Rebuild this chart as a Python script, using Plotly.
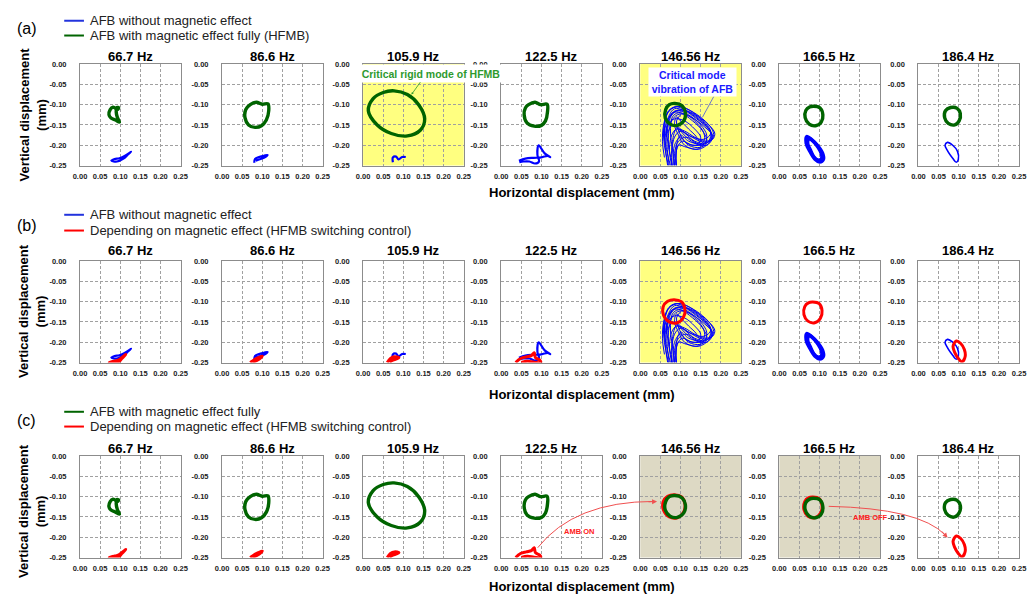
import plotly.graph_objects as go

W, H = 1033, 599

# ---------------- data ----------------
FREQ_LABELS = ["66.7 Hz", "86.6 Hz", "105.9 Hz", "122.5 Hz", "146.56 Hz", "166.5 Hz", "186.4 Hz"]
X_TICKS = [0.0, 0.05, 0.10, 0.15, 0.20, 0.25]
X_TICK_TEXT = ["0.00", "0.05", "0.10", "0.15", "0.20", "0.25"]
Y_TICKS = [0.0, -0.05, -0.10, -0.15, -0.20, -0.25]
Y_TICK_TEXT = ["0.00", "-0.05", "-0.10", "-0.15", "-0.20", "-0.25"]

# AFB with magnetic effect fully (HFMB) - green
G667_X = [0.082, 0.075, 0.072, 0.077, 0.088, 0.098, 0.093, 0.090, 0.092, 0.096, 0.093, 0.087, 0.082]
G667_Y = [-0.106, -0.112, -0.125, -0.133, -0.138, -0.143, -0.132, -0.118, -0.107, -0.108, -0.112, -0.108, -0.106]
G866_X = [0.070, 0.085, 0.100, 0.114, 0.116, 0.110, 0.098, 0.082, 0.066, 0.057, 0.059, 0.070]
G866_Y = [-0.100, -0.094, -0.099, -0.098, -0.115, -0.138, -0.152, -0.156, -0.150, -0.132, -0.112, -0.100]
G1059_X = [0.077, 0.110, 0.138, 0.153, 0.142, 0.110, 0.070, 0.035, 0.013, 0.025, 0.050, 0.077]
G1059_Y = [-0.066, -0.075, -0.100, -0.135, -0.163, -0.177, -0.171, -0.150, -0.115, -0.085, -0.070, -0.066]
G1225_X = [0.068, 0.084, 0.098, 0.114, 0.115, 0.110, 0.100, 0.082, 0.064, 0.057, 0.060, 0.068]
G1225_Y = [-0.100, -0.094, -0.100, -0.099, -0.118, -0.140, -0.151, -0.153, -0.145, -0.125, -0.108, -0.100]
G14656_X = [0.086, 0.104, 0.112, 0.108, 0.092, 0.074, 0.062, 0.063, 0.072, 0.086]
G14656_Y = [-0.097, -0.103, -0.120, -0.140, -0.151, -0.148, -0.133, -0.112, -0.100, -0.097]
G1665_X = [0.085, 0.101, 0.108, 0.104, 0.090, 0.074, 0.064, 0.066, 0.075, 0.085]
G1665_Y = [-0.104, -0.108, -0.125, -0.143, -0.152, -0.148, -0.132, -0.114, -0.106, -0.104]
G1864_X = [0.080, 0.096, 0.104, 0.101, 0.090, 0.074, 0.065, 0.067, 0.080]
G1864_Y = [-0.107, -0.109, -0.122, -0.140, -0.150, -0.146, -0.132, -0.115, -0.107]

# AFB without magnetic effect - blue
B667_X = [0.078, 0.092, 0.108, 0.120, 0.127, 0.112, 0.098, 0.086, 0.078]
B667_Y = [-0.238, -0.240, -0.233, -0.222, -0.216, -0.226, -0.232, -0.234, -0.238]
B866_X = [0.080, 0.082, 0.092, 0.104, 0.113, 0.104, 0.092, 0.084]
B866_Y = [-0.243, -0.234, -0.229, -0.226, -0.224, -0.231, -0.235, -0.238]
B1059_X = [0.074, 0.074, 0.082, 0.088, 0.097, 0.106]
B1059_Y = [-0.242, -0.230, -0.228, -0.235, -0.229, -0.229]
B1225_X = [0.044, 0.060, 0.080, 0.100, 0.115, 0.122, 0.108, 0.093, 0.090, 0.094, 0.084, 0.070, 0.055, 0.045]
B1225_Y = [-0.238, -0.233, -0.231, -0.230, -0.226, -0.229, -0.220, -0.200, -0.224, -0.240, -0.245, -0.240, -0.240, -0.242]
B14656_L1_X = [0.075, 0.065, 0.060, 0.070, 0.085, 0.110, 0.140, 0.170, 0.180, 0.165, 0.140, 0.115, 0.095, 0.085, 0.085]
B14656_L1_Y = [-0.250, -0.210, -0.170, -0.130, -0.110, -0.115, -0.135, -0.160, -0.180, -0.200, -0.195, -0.180, -0.190, -0.220, -0.250]
B14656_L2_X = [0.080, 0.070, 0.065, 0.075, 0.095, 0.120, 0.150, 0.165, 0.160, 0.135, 0.110, 0.090, 0.080, 0.078]
B14656_L2_Y = [-0.250, -0.200, -0.160, -0.125, -0.115, -0.125, -0.150, -0.175, -0.195, -0.190, -0.170, -0.160, -0.190, -0.250]
B14656_L3_X = [0.070, 0.060, 0.058, 0.068, 0.090, 0.115, 0.145, 0.175, 0.170, 0.150, 0.120, 0.100, 0.090, 0.100]
B14656_L3_Y = [-0.250, -0.200, -0.160, -0.120, -0.105, -0.110, -0.130, -0.165, -0.190, -0.205, -0.200, -0.175, -0.140, -0.125]
B14656_L4_X = [0.065, 0.070, 0.080, 0.100, 0.130, 0.155, 0.165, 0.150, 0.120, 0.095, 0.080, 0.068]
B14656_L4_Y = [-0.180, -0.140, -0.120, -0.120, -0.140, -0.165, -0.190, -0.200, -0.185, -0.160, -0.150, -0.170]
B14656_L5_X = [0.085, 0.080, 0.075, 0.080, 0.095, 0.125, 0.160, 0.178, 0.170, 0.145, 0.115, 0.095, 0.088, 0.090]
B14656_L5_Y = [-0.250, -0.210, -0.170, -0.130, -0.120, -0.130, -0.155, -0.175, -0.195, -0.210, -0.205, -0.200, -0.230, -0.250]
B14656_L6_X = [0.060, 0.055, 0.058, 0.070, 0.088, 0.105, 0.130, 0.160, 0.175, 0.160, 0.130, 0.105, 0.090]
B14656_L6_Y = [-0.230, -0.190, -0.150, -0.115, -0.105, -0.110, -0.125, -0.150, -0.170, -0.185, -0.180, -0.165, -0.150]
B14656_L7_X = [0.072, 0.068, 0.066, 0.072, 0.082, 0.100, 0.125, 0.155, 0.172, 0.176, 0.160, 0.130, 0.105, 0.092, 0.088]
B14656_L7_Y = [-0.250, -0.220, -0.180, -0.140, -0.118, -0.113, -0.120, -0.142, -0.162, -0.182, -0.197, -0.200, -0.190, -0.205, -0.250]
B14656_L8_X = [0.078, 0.072, 0.070, 0.078, 0.092, 0.115, 0.140, 0.158, 0.158, 0.140, 0.115, 0.100, 0.085, 0.082]
B14656_L8_Y = [-0.250, -0.215, -0.175, -0.140, -0.125, -0.125, -0.145, -0.170, -0.190, -0.200, -0.195, -0.180, -0.200, -0.250]
B14656_L9_X = [0.062, 0.060, 0.066, 0.080, 0.100, 0.125, 0.155, 0.178, 0.182, 0.170, 0.148, 0.120, 0.100, 0.085, 0.078]
B14656_L9_Y = [-0.200, -0.160, -0.125, -0.108, -0.105, -0.115, -0.135, -0.160, -0.178, -0.192, -0.190, -0.175, -0.165, -0.180, -0.220]
B14656_L10_X = [0.090, 0.100, 0.120, 0.140, 0.150, 0.135, 0.110, 0.095, 0.085, 0.090]
B14656_L10_Y = [-0.130, -0.140, -0.160, -0.180, -0.205, -0.210, -0.200, -0.175, -0.150, -0.130]
B14656_L11_X = [0.068, 0.063, 0.062, 0.068, 0.085, 0.110, 0.135, 0.150, 0.145, 0.120, 0.100, 0.090, 0.090]
B14656_L11_Y = [-0.250, -0.215, -0.180, -0.150, -0.135, -0.140, -0.160, -0.180, -0.195, -0.190, -0.175, -0.200, -0.250]
B14656_L12_X = [0.075, 0.090, 0.115, 0.145, 0.170, 0.185, 0.180, 0.160, 0.135, 0.110, 0.090, 0.078, 0.072]
B14656_L12_Y = [-0.130, -0.115, -0.115, -0.130, -0.150, -0.170, -0.185, -0.190, -0.180, -0.165, -0.160, -0.175, -0.210]
B1665_L1_X = [0.068, 0.080, 0.095, 0.108, 0.110, 0.100, 0.088, 0.075, 0.066, 0.068]
B1665_L1_Y = [-0.178, -0.185, -0.200, -0.220, -0.235, -0.242, -0.235, -0.215, -0.195, -0.178]
B1665_L2_X = [0.070, 0.082, 0.096, 0.106, 0.107, 0.098, 0.087, 0.076, 0.068, 0.070]
B1665_L2_Y = [-0.181, -0.188, -0.203, -0.221, -0.234, -0.239, -0.231, -0.212, -0.195, -0.181]
B1665_L3_X = [0.073, 0.084, 0.096, 0.104, 0.104, 0.096, 0.086, 0.077, 0.071, 0.073]
B1665_L3_Y = [-0.184, -0.191, -0.206, -0.222, -0.233, -0.236, -0.228, -0.210, -0.196, -0.184]
B1864_X = [0.072, 0.085, 0.097, 0.099, 0.094, 0.085, 0.073, 0.066, 0.072]
B1864_Y = [-0.193, -0.200, -0.215, -0.235, -0.242, -0.232, -0.215, -0.200, -0.193]

# Depending on magnetic effect (HFMB switching control) - red
R667_X = [0.073, 0.095, 0.114, 0.104, 0.096, 0.085, 0.073]
R667_Y = [-0.250, -0.244, -0.230, -0.240, -0.248, -0.247, -0.250]
R866_X = [0.070, 0.080, 0.090, 0.100, 0.094, 0.084, 0.076]
R866_Y = [-0.250, -0.243, -0.238, -0.234, -0.240, -0.246, -0.250]
R1059_X = [0.060, 0.068, 0.078, 0.089, 0.080, 0.070, 0.066]
R1059_Y = [-0.250, -0.240, -0.236, -0.238, -0.242, -0.246, -0.250]
R1225_X = [0.036, 0.048, 0.062, 0.075, 0.082, 0.085, 0.096, 0.098, 0.082, 0.065, 0.050]
R1225_Y = [-0.250, -0.240, -0.236, -0.233, -0.226, -0.238, -0.244, -0.250, -0.249, -0.247, -0.250]
R14656_X = [0.084, 0.102, 0.111, 0.107, 0.092, 0.072, 0.058, 0.057, 0.068, 0.084]
R14656_Y = [-0.095, -0.100, -0.118, -0.139, -0.152, -0.150, -0.134, -0.112, -0.099, -0.095]
R1665_X = [0.083, 0.099, 0.106, 0.102, 0.088, 0.071, 0.061, 0.063, 0.072, 0.083]
R1665_Y = [-0.101, -0.105, -0.122, -0.141, -0.152, -0.148, -0.132, -0.112, -0.103, -0.101]
R1864_X = [0.094, 0.105, 0.114, 0.116, 0.108, 0.099, 0.090, 0.086, 0.094]
R1864_Y = [-0.197, -0.203, -0.218, -0.235, -0.248, -0.240, -0.225, -0.210, -0.197]

GREEN = [[(G667_X, G667_Y)], [(G866_X, G866_Y)], [(G1059_X, G1059_Y)], [(G1225_X, G1225_Y)],
         [(G14656_X, G14656_Y)], [(G1665_X, G1665_Y)], [(G1864_X, G1864_Y)]]
BLUE = [[(B667_X, B667_Y)], [(B866_X, B866_Y)], [(B1059_X, B1059_Y)], [(B1225_X, B1225_Y)],
        [(B14656_L1_X, B14656_L1_Y), (B14656_L2_X, B14656_L2_Y), (B14656_L3_X, B14656_L3_Y),
         (B14656_L4_X, B14656_L4_Y), (B14656_L5_X, B14656_L5_Y), (B14656_L6_X, B14656_L6_Y),
         (B14656_L7_X, B14656_L7_Y), (B14656_L8_X, B14656_L8_Y), (B14656_L9_X, B14656_L9_Y),
         (B14656_L10_X, B14656_L10_Y), (B14656_L11_X, B14656_L11_Y), (B14656_L12_X, B14656_L12_Y)],
        [(B1665_L1_X, B1665_L1_Y), (B1665_L2_X, B1665_L2_Y), (B1665_L3_X, B1665_L3_Y)],
        [(B1864_X, B1864_Y)]]
RED = [[(R667_X, R667_Y)], [(R866_X, R866_Y)], [(R1059_X, R1059_Y)], [(R1225_X, R1225_Y)],
       [(R14656_X, R14656_Y)], [(R1665_X, R1665_Y)], [(R1864_X, R1864_Y)]]

# ---------------- styles ----------------
COLORS = {"blue": "#0000FF", "green": "#006400", "red": "#FF0000"}
SERIES = {"blue": BLUE, "green": GREEN, "red": RED}
WIDTHS = {"blue": [2.2, 2.2, 2.2, 2.2, 1, 3, 1.6], "green": [3.4] * 7, "red": [3] * 7}
ROW_ORDER = [("blue", "green"), ("blue", "red"), ("red", "green")]
BG = {(0, 2): "#FFFF80", (0, 4): "#FFFF80", (1, 4): "#FFFF80", (2, 4): "#DDD9C4", (2, 5): "#DDD9C4"}

COL_LEFT = [74, 218, 361, 501, 642, 783, 924]
ROW_TOP = [61, 261, 459]
BOX_W, BOX_H = 102, 103
FONT = "Liberation Sans, Arial, sans-serif"


def fx(p):
    return p / W


def fy(p):
    return 1 - p / H


fig = go.Figure()
layout = dict(width=W, height=H, autosize=False, margin=dict(l=0, r=0, t=0, b=0),
              paper_bgcolor="white", plot_bgcolor="white", showlegend=False,
              font=dict(family=FONT, color="black"))
shapes, annotations = [], []

for r in range(3):
    for c in range(7):
        k = r * 7 + c + 1
        xa = "x" if k == 1 else f"x{k}"
        ya = "y" if k == 1 else f"y{k}"
        for s in ROW_ORDER[r]:
            for xs, ys in SERIES[s][c]:
                fig.add_trace(go.Scatter(x=xs, y=ys, mode="lines", xaxis=xa, yaxis=ya,
                                         line=dict(color=COLORS[s], width=WIDTHS[s][c],
                                                   shape="spline", smoothing=1),
                                         hoverinfo="skip", showlegend=False))
        x0, y0 = COL_LEFT[c], ROW_TOP[r]
        common = dict(showline=True, mirror=True, linecolor="#8c8c8c", linewidth=1,
                      showgrid=True, gridcolor="#a0a0a0", griddash="3px,2px", gridwidth=0.8,
                      zeroline=False, fixedrange=True,
                      tickfont=dict(size=7.5, family=FONT, color="#222", weight="bold"))
        layout["xaxis" if k == 1 else f"xaxis{k}"] = dict(
            domain=[fx(x0), fx(x0 + BOX_W)], anchor=ya, range=[0, 0.25],
            tickmode="array", tickvals=X_TICKS, ticktext=X_TICK_TEXT,
            ticks="", ticklabelstandoff=3, **common)
        layout["yaxis" if k == 1 else f"yaxis{k}"] = dict(
            domain=[fy(y0 + BOX_H), fy(y0)], anchor=xa, range=[-0.25, 0],
            tickmode="array", tickvals=Y_TICKS, ticktext=Y_TICK_TEXT,
            ticks="", ticklabelstandoff=11, **common)
        if (r, c) in BG:
            shapes.append(dict(type="rect", xref=f"{xa} domain", yref=f"{ya} domain",
                               x0=0, x1=1, y0=0, y1=1, fillcolor=BG[(r, c)],
                               line=dict(width=0), layer="below"))
        annotations.append(dict(text=f"<b>{FREQ_LABELS[c]}</b>", x=fx(x0 + BOX_W / 2),
                                y=fy([53, 250, 451][r]), xref="paper", yref="paper",
                                showarrow=False, xanchor="center", yanchor="middle",
                                font=dict(size=13, family=FONT, color="black")))

for r, lab in enumerate(["(a)", "(b)", "(c)"]):
    annotations.append(dict(text=lab, x=fx(20), y=fy([25, 225, 423][r]), xref="paper", yref="paper",
                            showarrow=False, xanchor="center", yanchor="middle",
                            font=dict(size=16, family=FONT, color="black")))
    annotations.append(dict(text="<b>Horizontal displacement (mm)</b>", x=fx(583),
                            y=fy([191.5, 396, 591.5][r]), xref="paper", yref="paper",
                            showarrow=False, xanchor="center", yanchor="middle",
                            font=dict(size=13, family=FONT, color="black")))
    annotations.append(dict(text="<b>Vertical displacement<br>(mm)</b>", x=fx(26),
                            y=fy([112.5, 312, 515][r]), xref="paper", yref="paper",
                            showarrow=False, textangle=-90, xanchor="center", yanchor="middle",
                            font=dict(size=13, family=FONT, color="black")))

LEGENDS = [(17, "blue", "AFB without magnetic effect"),
           (32, "green", "AFB with magnetic effect fully (HFMB)"),
           (214, "blue", "AFB without magnetic effect"),
           (230, "red", "Depending on magnetic effect (HFMB switching control)"),
           (414, "green", "AFB with magnetic effect fully"),
           (429, "red", "Depending on magnetic effect (HFMB switching control)")]
LEG_COL = {"blue": "#2233DD", "green": "#006400", "red": "#FF0000"}
for yy, col, txt in LEGENDS:
    shapes.append(dict(type="line", xref="paper", yref="paper", x0=fx(58), x1=fx(78),
                       y0=fy(yy), y1=fy(yy), line=dict(color=LEG_COL[col], width=2)))
    annotations.append(dict(text=txt, x=fx(82), y=fy(yy), xref="paper", yref="paper",
                            showarrow=False, xanchor="left", yanchor="middle",
                            font=dict(size=13, family=FONT, color="#222")))

annotations.append(dict(text="<b>Critical rigid mode of HFMB</b>", x=fx(430), y=fy(70.5),
                        xref="paper", yref="paper", showarrow=False, bgcolor="white",
                        width=144, height=15, xanchor="center", yanchor="middle",
                        font=dict(size=10.5, family=FONT, color="#2E9A2E")))
annotations.append(dict(text="", x=fx(410), y=fy(92), xref="paper", yref="paper",
                        ax=10, ay=-14, showarrow=True, arrowhead=2, arrowsize=0.6,
                        arrowwidth=0.8, arrowcolor="#2E9A2E"))
annotations.append(dict(text="<b>Critical mode<br>vibration of AFB</b>", x=fx(694.5), y=fy(79.5),
                        xref="paper", yref="paper", showarrow=False, bgcolor="white",
                        width=85, height=26, xanchor="center", yanchor="middle",
                        font=dict(size=10.5, family=FONT, color="#1a1aff")))
annotations.append(dict(text="", x=fx(705), y=fy(115), xref="paper", yref="paper",
                        ax=12, ay=-22, showarrow=True, arrowhead=0,
                        arrowwidth=0.8, arrowcolor="#4455dd"))


def qpath(p0, pc, p1):
    return (f"M {fx(p0[0])},{fy(p0[1])} Q {fx(pc[0])},{fy(pc[1])} {fx(p1[0])},{fy(p1[1])}")


shapes.append(dict(type="path", xref="paper", yref="paper",
                   path=qpath((538, 552), (575, 505), (656, 505)),
                   line=dict(color="#F05050", width=1)))
annotations.append(dict(text="", x=fx(659), y=fy(505), xref="paper", yref="paper",
                        ax=-10, ay=0.5, showarrow=True, arrowhead=2, arrowsize=1,
                        arrowwidth=1, arrowcolor="#F05050"))
annotations.append(dict(text="<b>AMB ON</b>", x=fx(580), y=fy(536), xref="paper", yref="paper",
                        showarrow=False, xanchor="center", yanchor="middle",
                        font=dict(size=7.5, family=FONT, color="#FF2020")))
shapes.append(dict(type="path", xref="paper", yref="paper",
                   path=qpath((833, 510), (925, 512), (951, 539)),
                   line=dict(color="#F05050", width=1)))
annotations.append(dict(text="", x=fx(953.5), y=fy(542), xref="paper", yref="paper",
                        ax=-7, ay=-8, showarrow=True, arrowhead=2, arrowsize=1,
                        arrowwidth=1, arrowcolor="#F05050"))
annotations.append(dict(text="<b>AMB OFF</b>", x=fx(875), y=fy(521), xref="paper", yref="paper",
                        showarrow=False, xanchor="center", yanchor="middle",
                        font=dict(size=7.5, family=FONT, color="#FF2020")))

layout["shapes"] = shapes
layout["annotations"] = annotations
fig.update_layout(**layout)
fig.write_html("out.html", post_script="document.body.style.margin='0px';",
               config={"displayModeBar": False})
